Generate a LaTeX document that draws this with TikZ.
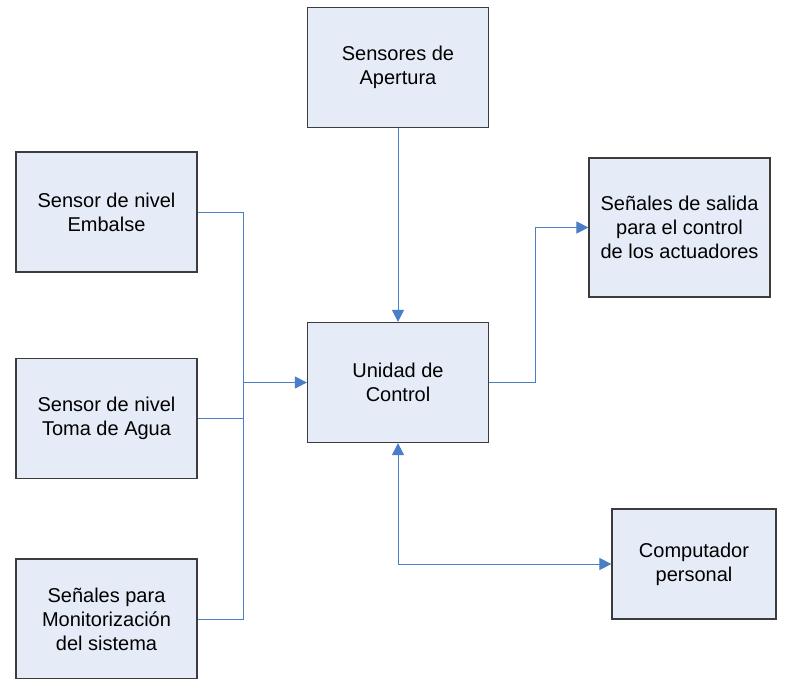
\documentclass[tikz,border=0pt]{standalone}
\usepackage{fontspec}
\setmainfont{Liberation Sans}
\usetikzlibrary{arrows.meta}

\definecolor{boxfill}{HTML}{E6ECF7}
\definecolor{boxline}{HTML}{3C3C3C}
\definecolor{linkblue}{HTML}{4A7EC7}

\begin{document}
\begin{tikzpicture}
    [x=1pt,y=-1pt,
     boxstyle/.style={draw=boxline,fill=boxfill,line width=1.2pt,minimum width=181pt,minimum height=120pt,align=center,font=\fontsize{20}{24}\selectfont},
     linkstyle/.style={draw=linkblue,line width=1pt},
     arrowstyle/.style={linkstyle,-{Triangle[length=12pt,width=12pt]}},
     twowaystyle/.style={linkstyle,{Triangle[length=12pt,width=12pt]}-{Triangle[length=12pt,width=12pt]}}]

    \clip (0,0) rectangle (787,678);
    \fill [white] (0,0) rectangle (787,678);

    \node[boxstyle] (apert) at (398,67.5) {Sensores de\\Apertura};
    \node[boxstyle] (embalse) at (106.5,212) {Sensor de nivel\\Embalse};
    \node[boxstyle] (toma) at (106.5,418.5) {Sensor de nivel\\Toma de Agua};
    \node[boxstyle] (monit) at (106.5,619) {Señales para\\Monitorización\\del sistema};
    \node[boxstyle] (unidad) at (398,382.5) {Unidad de\\Control};
    \node[boxstyle,minimum height=139pt] (salida) at (679.5,227.5) {Señales de salida\\para el control\\de los actuadores};
    \node[boxstyle,minimum width=164pt,minimum height=110pt] (comp) at (694,564) {Computador\\personal};

    \coordinate (bus) at (243,382.5);
    \coordinate (split) at (535,382.5);

    \draw [arrowstyle] (apert.south) -- (unidad.north);
    \draw [linkstyle] (embalse.east) -| (bus);
    \draw [linkstyle] (toma.east) -| (bus);
    \draw [linkstyle] (monit.east) -| (bus);
    \draw [arrowstyle] (bus) -- (unidad.west);
    \draw [arrowstyle] (unidad.east) -- (split) |- (salida.west);
    \draw [twowaystyle] (unidad.south) |- (comp.west);
\end{tikzpicture}
\end{document}
